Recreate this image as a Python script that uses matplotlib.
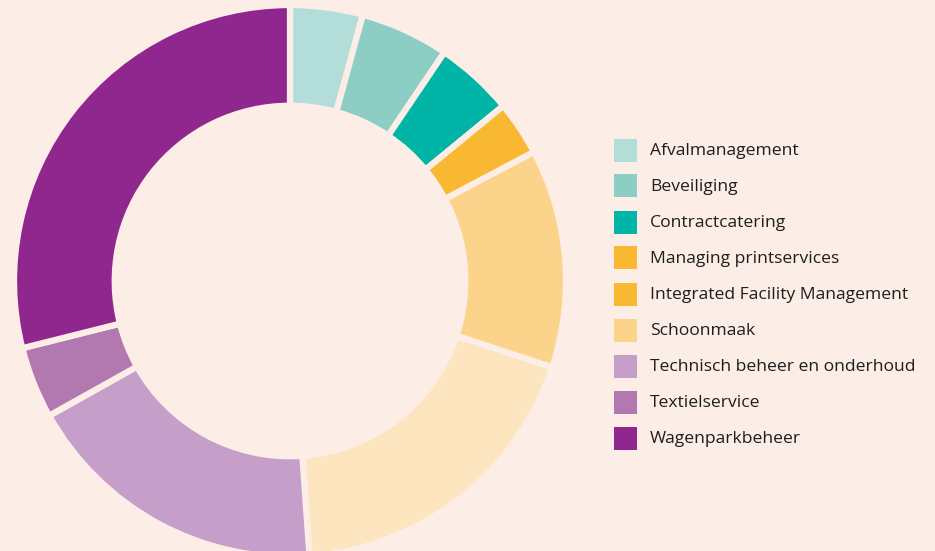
import matplotlib.pyplot as plt
from matplotlib.patches import Rectangle

plt.rcParams['font.family'] = ['Open Sans', 'DejaVu Sans']

# slices clockwise from 12 o'clock (share in %)
slices = ['Afvalmanagement', 'Beveiliging', 'Contractcatering',
          'Managing printservices', 'Integrated Facility Management',
          'Schoonmaak', 'Technisch beheer en onderhoud', 'Textielservice',
          'Wagenparkbeheer']
values = [4.25, 5.2, 4.6, 3.2, 12.8, 18.8, 18.0, 4.2, 28.9]
slice_colors = ['#b2ddd8', '#8ccdc4', '#00b5a5', '#f8b832', '#fbd38a',
                '#fde5bf', '#c59fc9', '#b278b0', '#90278e']

# legend as shown in the original (colours as drawn there)
legend_labels = ['Afvalmanagement', 'Beveiliging', 'Contractcatering',
                 'Managing printservices', 'Integrated Facility Management',
                 'Schoonmaak', 'Technisch beheer en onderhoud',
                 'Textielservice', 'Wagenparkbeheer']
legend_colors = ['#b2ddd8', '#8ccdc4', '#00b5a5', '#f8b832', '#f8b832',
                 '#fbd38a', '#c59fc9', '#b278b0', '#90278e']

bg = '#fdede7'
W, H = 935, 551
fig = plt.figure(figsize=(W / 100, H / 100), dpi=100, facecolor=bg)

r = 276
cx, cy = 290, H - 281
ax = fig.add_axes([(cx - r) / W, (cy - r) / H, 2 * r / W, 2 * r / H])
ax.set_facecolor(bg)
ax.pie(values, colors=slice_colors, startangle=90, counterclock=False,
       radius=1, wedgeprops=dict(width=0.365, edgecolor=bg, linewidth=4.5))
ax.set_xlim(-1, 1)
ax.set_ylim(-1, 1)
ax.axis('off')

# legend: squares + labels, one row every 36 px
for i, (lab, col) in enumerate(zip(legend_labels, legend_colors)):
    yc = 150 + 36 * i
    fig.add_artist(Rectangle((614 / W, 1 - (yc + 11.5) / H), 23 / W, 23 / H,
                             transform=fig.transFigure, facecolor=col,
                             edgecolor='none'))
    fig.text(650 / W, 1 - (yc + 1) / H, lab, fontsize=12.6, va='center',
             ha='left', color='#1e1e1e')

fig.savefig('out.png', dpi=100, facecolor=bg)
